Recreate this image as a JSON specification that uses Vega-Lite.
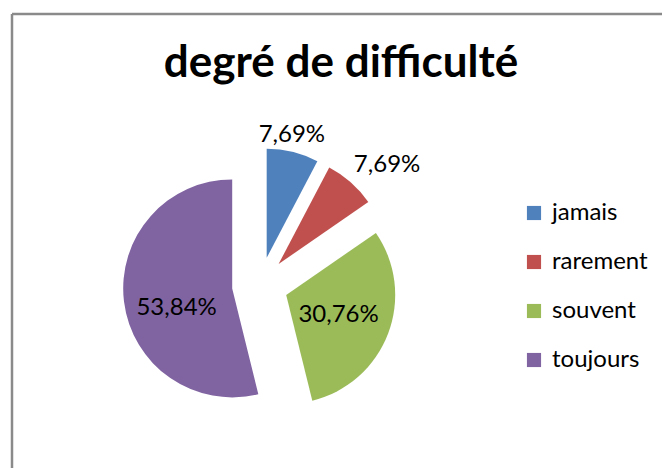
{
  "$schema": "https://vega.github.io/schema/vega-lite/v6.json",
  "width": 650,
  "height": 454,
  "autosize": "none",
  "padding": {"left": 12, "top": 14, "right": 0, "bottom": 0},
  "background": "white",
  "view": {"stroke": "#8a8a8a", "strokeWidth": 2.5, "strokeDash": [650, 1104, 454, 0]},
  "config": {
    "locale": {"number": {"decimal": ",", "thousands": " ", "grouping": [3], "currency": ["", " €"]}}
  },
  "title": {
    "text": "degré de difficulté",
    "font": "Lato",
    "fontSize": 44,
    "fontWeight": "bold",
    "color": "#000000",
    "anchor": "middle",
    "offset": -44,
    "baseline": "alphabetic",
    "dx": 4,
    "dy": 63
  },
  "data": {
    "values": [
      {"cat": "jamais", "value": 0.0769},
      {"cat": "rarement", "value": 0.0769},
      {"cat": "souvent", "value": 0.3076},
      {"cat": "toujours", "value": 0.5384}
    ]
  },
  "encoding": {
    "theta": {"field": "value", "type": "quantitative", "stack": true},
    "order": {"field": "cat", "type": "nominal"}
  },
  "layer": [
    {
      "mark": {"type": "arc", "outerRadius": 109, "xOffset": -70.3, "yOffset": 16.8},
      "encoding": {
        "color": {
          "field": "cat", "type": "nominal",
          "scale": {"domain": ["jamais", "rarement", "souvent", "toujours"], "range": ["#4F81BD", "#C0504D", "#9BBB59", "#8064A2"]},
          "legend": {
            "title": null, "orient": "none", "legendX": 510, "legendY": 187,
            "symbolType": "square", "symbolSize": 200, "symbolStrokeWidth": 0,
            "labelFont": "Lato", "labelFontSize": 24, "labelColor": "#000000",
            "labelOffset": 6, "rowPadding": 25, "padding": 0
          }
        },
        "opacity": {"condition": {"test": "datum.cat === 'jamais'", "value": 1}, "value": 0}
      }
    },
    {
      "mark": {"type": "arc", "outerRadius": 109, "xOffset": -58.4, "yOffset": 23.0},
      "encoding": {
        "color": {"field": "cat", "type": "nominal"},
        "opacity": {"condition": {"test": "datum.cat === 'rarement'", "value": 1}, "value": 0}
      }
    },
    {
      "mark": {"type": "arc", "outerRadius": 109, "xOffset": -50.8, "yOffset": 53.9},
      "encoding": {
        "color": {"field": "cat", "type": "nominal"},
        "opacity": {"condition": {"test": "datum.cat === 'souvent'", "value": 1}, "value": 0}
      }
    },
    {
      "mark": {"type": "arc", "outerRadius": 109, "xOffset": -104.8, "yOffset": 47.4},
      "encoding": {
        "color": {"field": "cat", "type": "nominal"},
        "opacity": {"condition": {"test": "datum.cat === 'toujours'", "value": 1}, "value": 0}
      }
    },
    {
      "mark": {"type": "text", "radius": 126, "xOffset": -70.3, "yOffset": 16.8, "dx": -5, "font": "Lato", "fontSize": 24, "color": "#000000", "align": "center", "baseline": "middle"},
      "encoding": {
        "text": {"field": "value", "type": "quantitative", "format": ".2%"},
        "opacity": {"condition": {"test": "datum.cat === 'jamais'", "value": 1}, "value": 0}
      }
    },
    {
      "mark": {"type": "text", "radius": 147, "xOffset": -58.4, "yOffset": 23.0, "dx": 11, "dy": 11, "font": "Lato", "fontSize": 24, "color": "#000000", "align": "center", "baseline": "middle"},
      "encoding": {
        "text": {"field": "value", "type": "quantitative", "format": ".2%"},
        "opacity": {"condition": {"test": "datum.cat === 'rarement'", "value": 1}, "value": 0}
      }
    },
    {
      "mark": {"type": "text", "radius": 56, "xOffset": -50.8, "yOffset": 53.9, "font": "Lato", "fontSize": 24, "color": "#000000", "align": "center", "baseline": "middle"},
      "encoding": {
        "text": {"field": "value", "type": "quantitative", "format": ".2%"},
        "opacity": {"condition": {"test": "datum.cat === 'souvent'", "value": 1}, "value": 0}
      }
    },
    {
      "mark": {"type": "text", "radius": 56, "xOffset": -104.8, "yOffset": 47.4, "dy": 13, "font": "Lato", "fontSize": 24, "color": "#000000", "align": "center", "baseline": "middle"},
      "encoding": {
        "text": {"field": "value", "type": "quantitative", "format": ".2%"},
        "opacity": {"condition": {"test": "datum.cat === 'toujours'", "value": 1}, "value": 0}
      }
    }
  ]
}
